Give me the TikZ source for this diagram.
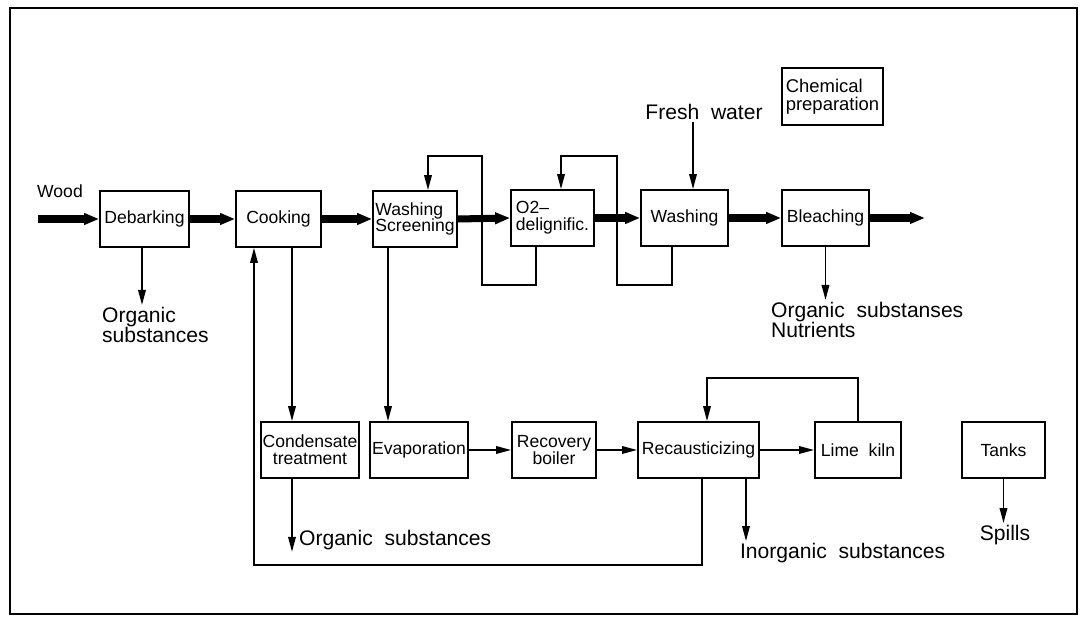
\documentclass[tikz,border=0pt]{standalone}
\usepackage{fontspec}
\setmainfont{Liberation Sans}
\usetikzlibrary{arrows.meta}

\begin{document}
\begin{tikzpicture}[x=0.02cm, y=-0.02cm,
    procbox/.style={draw, line width=1pt, minimum width=#1*\px, minimum height=56*\px,
        inner sep=1pt, align=center, font=\fontsize{10}{9.5}\selectfont},
    outlabel/.style={inner sep=1pt, align=left, font=\fontsize{12}{11.5}\selectfont},
    mainflow/.style={line width=4pt, -{Triangle[length=0.3cm, width=0.22cm]}},
    sideflow/.style={line width=1pt, -{Triangle[length=0.3cm, width=0.15cm]}}]
    % One unit = one pixel of the sheet
    \def\px{0.02cm}
    \useasboundingbox (0,0) rectangle (1080,617);

    % Frame
    \draw[line width=1pt] (10,8) rectangle (1077,614);

    % Fibre line
    \node[procbox=89] (deb) at (144.5,219) {Debarking};
    \node[procbox=85] (cook) at (278.5,219) {Cooking};
    \node[procbox=84, align=left] (ws) at (415,219) {Washing\\Screening};
    \node[procbox=83, align=left] (o2) at (552.5,218) {O2--\\delignific.};
    \node[procbox=87] (wash) at (684.5,218) {Washing};
    \node[procbox=87] (bleach) at (825.5,218) {Bleaching};
    \node[procbox=101, minimum height=57*\px, align=left, font=\fontsize{10.5}{10}\selectfont] (chem) at (832.5,96.5) {Chemical\\preparation};

    % Recovery line
    \node[procbox=96] (cond) at (310,450) {Condensate\\treatment};
    \node[procbox=96] (evap) at (419,450) {Evaporation};
    \node[procbox=84] (recov) at (554,450) {Recovery\\boiler};
    \node[procbox=121] (rec) at (698.5,450) {Recausticizing};
    \node[procbox=86] (lime) at (858,450) {Lime~~kiln};
    \node[procbox=83] (tanks) at (1003.5,450) {Tanks};

    % Inputs and outputs
    \node[inner sep=1pt, font=\fontsize{10}{12}\selectfont] (wood) at (60,191) {Wood};
    \coordinate (woodin) at (38,219);
    \coordinate (pulp) at (925,218);
    \node[outlabel] (fresh) at (704,112) {Fresh~~water};
    \node[outlabel, anchor=north west] (orgA) at (100,305) {Organic\\substances};
    \node[outlabel, anchor=north west] (orgB) at (769,300) {Organic~~substanses\\Nutrients};
    \node[outlabel, anchor=west] (orgC) at (297,540) {Organic~~substances};
    \node[outlabel, anchor=west] (inorg) at (738,553) {Inorganic~~substances};
    \node[outlabel] (spills) at (1005,535) {Spills};

    % Main pulp flow
    \draw[mainflow] (woodin) -- (deb.west);
    \foreach \a/\b in {deb/cook, cook/ws, ws/o2, o2/wash, wash/bleach} {
        \draw[mainflow] (\a.east) -- (\b.west);
    }
    \draw[mainflow] (bleach.east) -- (pulp);

    % Chemical recovery flow
    \foreach \a/\b in {evap/recov, recov/rec, rec/lime} {
        \draw[sideflow] (\a.east) -- (\b.west);
    }
    \draw[sideflow] ([xshift=13.5*\px]cook.south) -- ([xshift=13.5*\px]cook.south |- cond.north);
    \draw[sideflow] ([xshift=-27*\px]ws.south) -- ([xshift=-27*\px]ws.south |- evap.north);

    % Filtrate loops
    \draw[sideflow] ([xshift=-16.5*\px]o2.south) |- (482,285) |- (428,156) -- ([xshift=13*\px]ws.north);
    \draw[sideflow] ([xshift=-12.5*\px]wash.south) |- (617,285) |- (561,156) -- ([xshift=8.5*\px]o2.north);
    \draw[sideflow] ([xshift=8.5*\px]wash.north |- fresh.south) -- ([xshift=8.5*\px]wash.north);
    \draw[sideflow] (lime.north) |- (707,378) -- ([xshift=8.5*\px]rec.north);
    \draw[sideflow] ([xshift=3.5*\px]rec.south) |- (254,565) -- ([xshift=-24.5*\px]cook.south);

    % Discharges
    \draw[sideflow] ([xshift=-2.5*\px]deb.south) -- ([xshift=-2.5*\px]deb.south |- orgA.north);
    \draw[sideflow] (bleach.south) -- (bleach.south |- orgB.north);
    \draw[sideflow] ([xshift=-18*\px]cond.south) -- ([xshift=-18*\px]cond.south |- orgC.south);
    \draw[sideflow] ([xshift=47.5*\px]rec.south) -- ([xshift=47.5*\px]rec.south |- inorg.north);
    \draw[sideflow] (tanks.south) -- (tanks.south |- spills.north);

\end{tikzpicture}
\end{document}
